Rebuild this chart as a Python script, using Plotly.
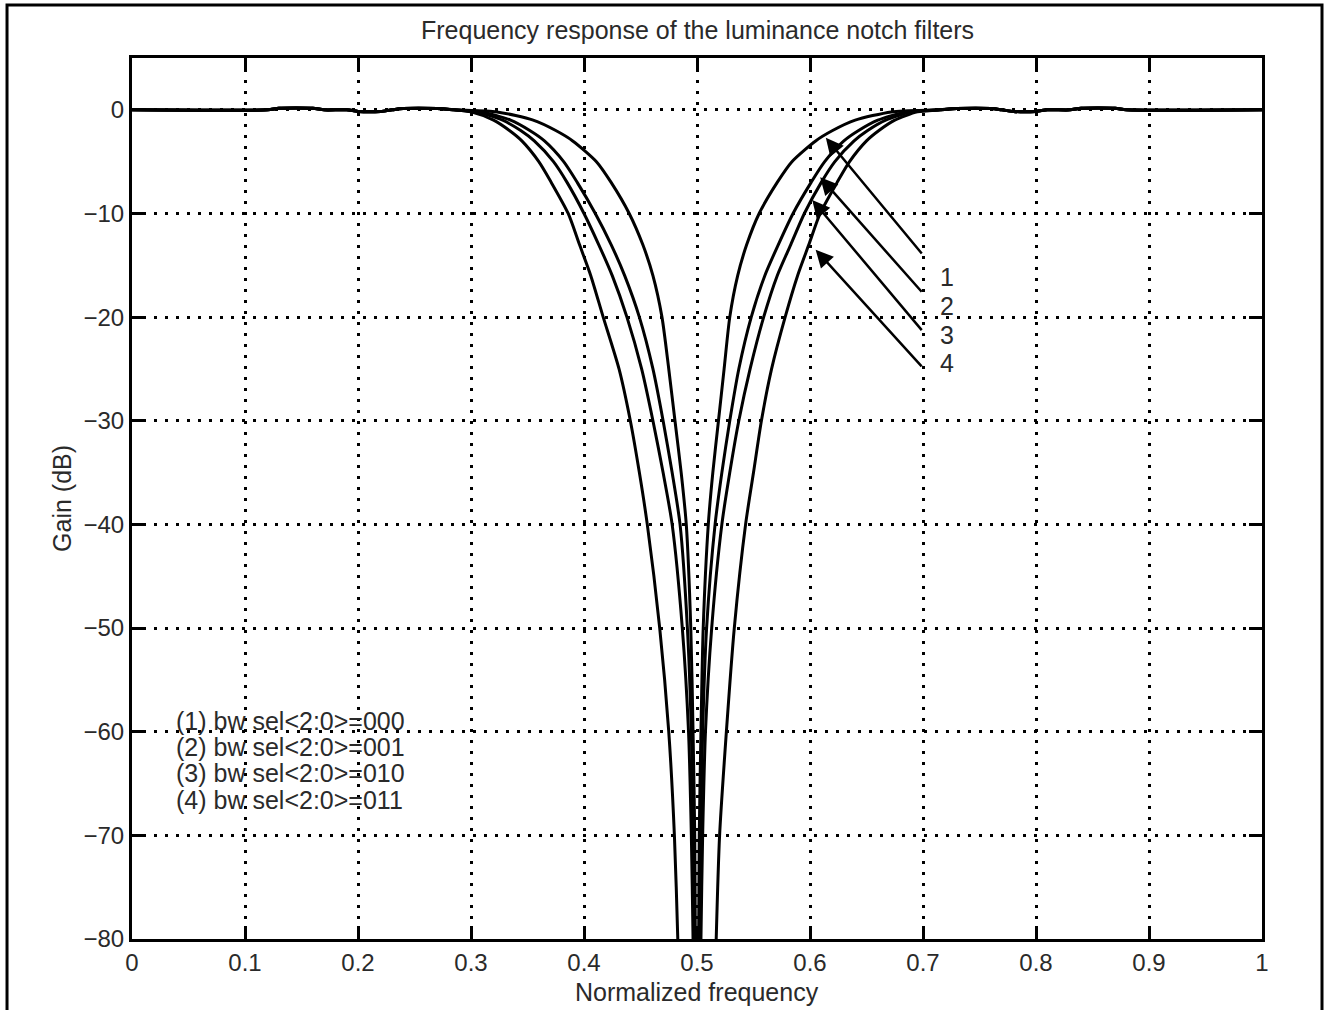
import plotly.graph_objects as go

# ---------------- data ----------------
title_text = "Frequency response of the luminance notch filters"
x_label = "Normalized frequency"
y_label = "Gain (dB)"

x_ticks = [0, 0.1, 0.2, 0.3, 0.4, 0.5, 0.6, 0.7, 0.8, 0.9, 1]
y_ticks = [0, -10, -20, -30, -40, -50, -60, -70, -80]

# pass-band ripple (shared by all four filters)
pass_left_x = [0.0, 0.12, 0.13, 0.16, 0.17, 0.19, 0.20, 0.22, 0.23, 0.24, 0.27, 0.285]
pass_left_y = [0.0, 0.0, 0.15, 0.15, 0.0, 0.0, -0.15, -0.15, 0.0, 0.12, 0.12, 0.0]
pass_right_x = [0.715, 0.73, 0.76, 0.77, 0.78, 0.80, 0.81, 0.83, 0.84, 0.87, 0.88, 1.0]
pass_right_y = [0.0, 0.12, 0.12, 0.0, -0.15, -0.15, 0.0, 0.0, 0.15, 0.15, 0.0, 0.0]

# gain levels (dB) at which each branch frequency was read
branch_gain = [-0.2, -1, -2, -3, -5, -7, -10, -13, -16, -20, -25, -30, -35, -40, -50, -60, -70, -80, -90]

c1_left = [0.323, 0.355, 0.375, 0.390, 0.411, 0.424, 0.440, 0.452, 0.461, 0.469, 0.475, 0.4805, 0.486, 0.4905, 0.4945, 0.4965, 0.498, 0.4985, 0.499]
c1_right = [0.672, 0.640, 0.620, 0.605, 0.584, 0.571, 0.555, 0.544, 0.536, 0.529, 0.524, 0.519, 0.514, 0.510, 0.5055, 0.5035, 0.502, 0.5015, 0.501]
c2_left = [0.310, 0.335, 0.352, 0.365, 0.382, 0.394, 0.410, 0.424, 0.436, 0.449, 0.461, 0.470, 0.478, 0.485, 0.4915, 0.495, 0.4967, 0.4975, 0.498]
c2_right = [0.685, 0.660, 0.643, 0.630, 0.613, 0.601, 0.585, 0.572, 0.560, 0.548, 0.537, 0.529, 0.522, 0.516, 0.5085, 0.505, 0.5033, 0.5025, 0.502]
c3_left = [0.305, 0.328, 0.344, 0.356, 0.373, 0.385, 0.400, 0.413, 0.425, 0.438, 0.451, 0.461, 0.470, 0.478, 0.487, 0.4925, 0.495, 0.4965, 0.4975]
c3_right = [0.690, 0.667, 0.651, 0.639, 0.622, 0.610, 0.595, 0.583, 0.571, 0.559, 0.547, 0.537, 0.529, 0.522, 0.513, 0.5075, 0.505, 0.5035, 0.5025]
c4_left = [0.300, 0.320, 0.334, 0.345, 0.360, 0.371, 0.386, 0.396, 0.406, 0.417, 0.431, 0.441, 0.449, 0.456, 0.467, 0.475, 0.480, 0.483, 0.485]
c4_right = [0.695, 0.675, 0.661, 0.650, 0.635, 0.624, 0.609, 0.599, 0.589, 0.578, 0.566, 0.557, 0.550, 0.543, 0.533, 0.526, 0.520, 0.517, 0.515]

# arrows: tail (x, y) -> tip (x, y)
arrow_tail_x = [0.700, 0.700, 0.700, 0.700]
arrow_tail_y = [-14.0, -17.7, -21.4, -24.9]
arrow_tip_x = [0.614, 0.609, 0.602, 0.605]
arrow_tip_y = [-2.7, -6.5, -8.7, -13.5]

curve_labels = ["1", "2", "3", "4"]
curve_label_x = 0.713
curve_label_y = [-16.1, -18.9, -21.7, -24.4]

legend_lines = ["(1) bw sel<2:0>=000", "(2) bw sel<2:0>=001",
                "(3) bw sel<2:0>=010", "(4) bw sel<2:0>=011"]
legend_x = 0.037
legend_y = [-59.0, -61.5, -64.0, -66.6]

# ---------------- figure ----------------
FONT = "Liberation Sans, Arial, sans-serif"
TXT = "#2a2a2a"
FS = 25
FT = 24

fig = go.Figure()

curves = [(c1_left, c1_right), (c2_left, c2_right), (c3_left, c3_right), (c4_left, c4_right)]
for left, right in curves:
    xs = list(pass_left_x) + list(left) + list(reversed(right)) + list(pass_right_x)
    ys = list(pass_left_y) + list(branch_gain) + list(reversed(branch_gain)) + list(pass_right_y)
    fig.add_trace(go.Scatter(x=xs, y=ys, mode="lines",
                             line=dict(color="black", width=3, shape="spline", smoothing=0.7),
                             showlegend=False, hoverinfo="skip"))

annotations = []
for tx, ty, hx, hy in zip(arrow_tail_x, arrow_tail_y, arrow_tip_x, arrow_tip_y):
    annotations.append(dict(x=hx, y=hy, ax=tx, ay=ty, xref="x", yref="y", axref="x", ayref="y",
                            text="", showarrow=True, arrowhead=2, arrowsize=1.4,
                            arrowwidth=2.5, arrowcolor="black"))
for lab, ly in zip(curve_labels, curve_label_y):
    annotations.append(dict(x=curve_label_x, y=ly, xref="x", yref="y", text=lab, showarrow=False,
                            xanchor="left", yanchor="middle", font=dict(family=FONT, size=FS, color=TXT)))
for line, ly in zip(legend_lines, legend_y):
    annotations.append(dict(x=legend_x, y=ly, xref="x", yref="y", text=line, showarrow=False,
                            xanchor="left", yanchor="middle", font=dict(family=FONT, size=FS, color=TXT)))

annotations.append(dict(x=0.5, y=1.0318, xref="paper", yref="paper", text=title_text, showarrow=False,
                        xanchor="center", yanchor="middle", font=dict(family=FONT, size=FS, color=TXT)))
annotations.append(dict(x=0.5, y=-0.0605, xref="paper", yref="paper", text=x_label, showarrow=False,
                        xanchor="center", yanchor="middle", font=dict(family=FONT, size=FS, color=TXT)))
annotations.append(dict(x=-0.062, y=0.5006, xref="paper", yref="paper", text=y_label, showarrow=False,
                        textangle=-90, xanchor="center", yanchor="middle",
                        font=dict(family=FONT, size=FS, color=TXT)))

axis_common = dict(showline=True, linecolor="black", linewidth=3, mirror="ticks",
                   ticks="inside", ticklen=13, tickwidth=3, tickcolor="black",
                   showgrid=True, gridcolor="black", gridwidth=2.5, griddash="3px,8px",
                   zeroline=False, tickfont=dict(family=FONT, size=FT, color=TXT))

fig.update_xaxes(range=[0, 1], tickvals=x_ticks, ticktext=[f"{v:g}" for v in x_ticks],
                 ticklabelstandoff=0, **axis_common)
fig.update_yaxes(range=[-80, 5], tickvals=y_ticks,
                 ticktext=[("\u2212" + str(-v)) if v < 0 else str(v) for v in y_ticks],
                 ticklabelstandoff=0, **axis_common)

# outer frame (left, top, right edges)
fig.add_shape(type="path", xref="paper", yref="paper",
              path="M -0.1106 -0.09 L -0.1106 1.0602 L 1.0531 1.0602 L 1.0531 -0.09",
              line=dict(color="black", width=3))

fig.update_layout(width=1331, height=1010, margin=dict(l=132, r=69, t=58, b=71),
                  paper_bgcolor="white", plot_bgcolor="white",
                  annotations=annotations, showlegend=False,
                  font=dict(family=FONT, color=TXT))

fig.write_html("out.html")
